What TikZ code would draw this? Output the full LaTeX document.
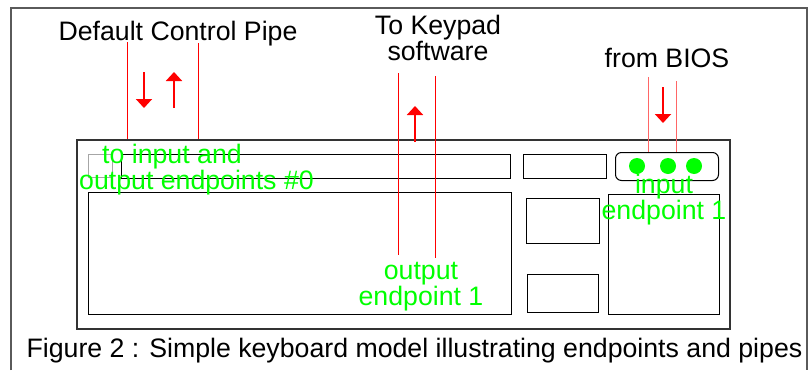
\documentclass[tikz,border=0pt]{standalone}
\usepackage{fontspec}
\setmainfont{Liberation Sans}
\usetikzlibrary{arrows.meta}
\definecolor{ledgreen}{RGB}{0,255,0}
\definecolor{framegray}{RGB}{90,90,90}
\tikzstyle{keyrect}=[rectangle,draw=black,line width=1pt,anchor=north west,inner sep=0pt]
\tikzstyle{pipe}=[draw=red,line width=1pt]
\tikzstyle{flow}=[red,line width=2pt,-{Triangle[width=16pt,length=9pt]}]
\tikzstyle{caption}=[font=\fontsize{26.7}{25.5}\selectfont,inner sep=0pt,align=center,anchor=base]
\tikzstyle{note}=[caption,text=ledgreen]
\tikzstyle{led}=[circle,fill=ledgreen,minimum size=16pt,inner sep=0pt]
\begin{document}
\begin{tikzpicture}[x=1pt,y=-1pt]
\useasboundingbox[fill=white](0,0) rectangle (809,370);
\draw[framegray,line width=1.5pt](11,370)--(11,8)--(807,8)--(807,370);
% keyboard
\node(kbd)[keyrect,draw=black!80,line width=1.5pt,minimum width=653pt,minimum height=189pt] at (76,139){};
\node(esc)[keyrect,draw=black!35,minimum width=24pt,minimum height=23pt] at (88,154){};
\node(fkeys)[keyrect,minimum width=389pt,minimum height=24pt] at (121,154){};
\node(keys)[keyrect,minimum width=423pt,minimum height=122pt] at (88,192){};
\node(sysrq)[keyrect,minimum width=83pt,minimum height=24pt] at (523,154){};
\node(edit)[keyrect,minimum width=73pt,minimum height=45pt] at (526,198){};
\node(cursor)[keyrect,minimum width=71pt,minimum height=38pt] at (527,274){};
\node(panel)[keyrect,rounded corners=6pt,minimum width=103pt,minimum height=28pt] at (615,152){};
\node(numpad)[keyrect,minimum width=111pt,minimum height=120pt] at (608,194){};
\node(led1)[led] at (637,166){};
\node(led2)[led] at (668,166){};
\node(led3)[led] at (694,166){};
% labels (multi-line nodes sit on their last baseline)
\node(ctrl)[caption] at (178,40){Default Control Pipe};
\node(keypad)[caption] at (438,60){To Keypad\\software};
\node(bios)[caption] at (667,67){from BIOS};
\node(ep0)[note,align=left,anchor=base west] at (79,189){\hspace*{23pt}to input and\\output endpoints \#0};
\node(epout)[note] at (421,305){output\\endpoint 1};
\node(epin)[note] at (664,219){input\\endpoint 1};
\node(fig)[caption] at (414.5,357){Figure 2 : Simple keyboard model illustrating endpoints and pipes};
% pipes
\coordinate(ctlA) at (127,42);
\coordinate(ctlB) at (198,43);
\coordinate(padA) at (398,73);
\coordinate(padB) at (435,76);
\coordinate(padAend) at (398,255);
\coordinate(padBend) at (435,258);
\coordinate(biosA) at (648,77);
\coordinate(biosB) at (676,81);
\draw[pipe](ctlA)--(ctlA |- kbd.north);
\draw[pipe](ctlB)--(ctlB |- kbd.north);
\draw[pipe](padA)--(padAend);
\draw[pipe](padB)--(padBend);
\draw[pipe,draw=red!60](biosA)--(biosA |- panel.north);
\draw[pipe,draw=red!60](biosB)--(biosB |- panel.north);
% directions
\coordinate(ctlDown) at (144,72);
\coordinate(ctlUp) at (174,108);
\coordinate(padUp) at (415,142);
\coordinate(biosDown) at (663,87);
\draw[flow](ctlDown)--++(0,36);
\draw[flow](ctlUp)--++(0,-36);
\draw[flow](padUp)--++(0,-36);
\draw[flow](biosDown)--++(0,36);
\end{tikzpicture}
\end{document}
